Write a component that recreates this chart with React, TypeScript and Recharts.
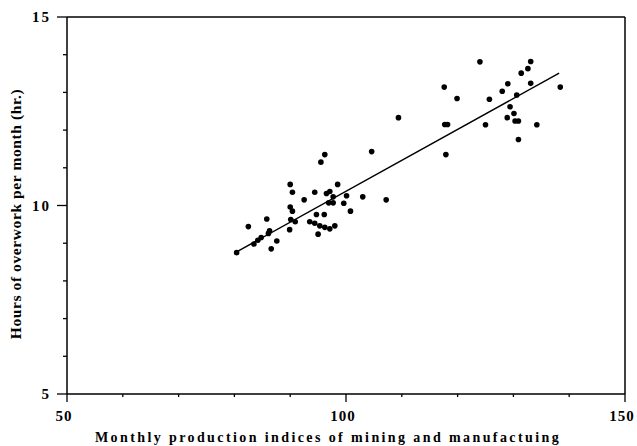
import { ScatterChart, Scatter, XAxis, YAxis, ZAxis, ReferenceLine, Label } from 'recharts';

// Monthly production index (x) vs hours of overwork per month (y)
const productionIndex = [
  80.4, 82.5, 83.5, 84.2, 84.8, 85.8, 86.3, 86.1, 87.6, 86.6,
  90.0, 90.4, 90.0, 90.4, 90.1, 90.9, 89.9, 92.5, 94.4, 94.4,
  93.5, 95.3, 96.2, 97.1, 98.0, 95.0, 94.7, 96.1, 95.5, 96.2,
  98.5, 96.5, 97.1, 97.7, 96.9, 97.7, 100.1, 99.6, 100.8, 103.0,
  107.2, 104.6, 109.4, 117.6, 117.7, 118.2, 117.9, 119.9, 124.0, 125.0,
  125.7, 128.0, 129.0, 130.6, 129.4, 130.1, 128.9, 130.3, 130.9, 130.9,
  134.2, 131.4, 132.6, 133.1, 133.1, 138.4,
];
const overworkHours = [
  8.75, 9.44, 8.98, 9.08, 9.15, 9.64, 9.33, 9.26, 9.06, 8.85,
  10.56, 10.35, 9.96, 9.85, 9.63, 9.57, 9.36, 10.15, 10.35, 9.53,
  9.57, 9.46, 9.42, 9.38, 9.46, 9.24, 9.76, 9.76, 11.15, 11.35,
  10.56, 10.32, 10.37, 10.23, 10.07, 10.07, 10.26, 10.06, 9.85, 10.23,
  10.15, 11.43, 12.33, 13.14, 12.15, 12.15, 11.35, 12.84, 13.81, 12.14,
  12.82, 13.03, 13.23, 12.93, 12.62, 12.44, 12.33, 12.24, 12.24, 11.75,
  12.14, 13.51, 13.63, 13.82, 13.24, 13.14,
];

// fitted regression line end points
const fitX = [80.4, 138.2];
const fitY = [8.77, 13.51];

const xTicks = [50, 60, 70, 80, 90, 100, 110, 120, 130, 140, 150];
const yTicks = [5, 6, 7, 8, 9, 10, 11, 12, 13, 14, 15];
const xLabels = [50, 100, 150];
const yLabels = [5, 10, 15];

const points = productionIndex.map((x, i) => ({ x, y: overworkHours[i] }));
const fitLine = fitX.map((x, i) => ({ x, y: fitY[i] }));

const FONT = '"Liberation Serif", "DejaVu Serif", serif';

const XTick = (props: any) => {
  const { x, y, payload } = props;
  const major = xLabels.includes(payload.value);
  return (
    <g>
      <line x1={x} x2={x} y1={y} y2={y + (major ? 8 : 3)} stroke="#000" strokeWidth={1.3} />
      {major && (
        <text x={x - 3} y={y + 27} textAnchor="middle" fontFamily={FONT} fontWeight="bold" fontSize={15} letterSpacing={1} fill="#000">
          {payload.value}
        </text>
      )}
    </g>
  );
};

const YTick = (props: any) => {
  const { x, y, payload } = props;
  const major = yLabels.includes(payload.value);
  return (
    <g>
      <line x1={x} x2={x - (major ? 10 : 4)} y1={y} y2={y} stroke="#000" strokeWidth={1.3} />
      {major && (
        <text x={x - 16} y={y + 5} textAnchor="end" fontFamily={FONT} fontWeight="bold" fontSize={15} letterSpacing={2} fill="#000">
          {payload.value}
        </text>
      )}
    </g>
  );
};

const XTitle = (props: any) => {
  const { viewBox } = props;
  return (
    <text x={viewBox.x + viewBox.width / 2 - 18} y={viewBox.y + 48} textAnchor="middle" fontFamily={FONT} fontWeight="bold" fontSize={14} letterSpacing={2.4} fill="#000">
      Monthly production indices of mining and manufactuing
    </text>
  );
};

const YTitle = () => {
  const cx = 21;
  const cy = 214;
  return (
    <text x={cx} y={cy} transform={`rotate(-90, ${cx}, ${cy})`} textAnchor="middle" fontFamily={FONT} fontWeight="bold" fontSize={15.5} letterSpacing={0.6} fill="#000">
      Hours of overwork per month (hr.)
    </text>
  );
};

const Dot = (props: any) => <circle cx={props.cx} cy={props.cy} r={2.8} fill="#000" />;
const NoDot = () => <g />;

export default function App() {
  return (
    <div style={{ width: 637, height: 446, background: '#fff' }}>
      <style>{'body { margin: 0; }'}</style>
      <ScatterChart width={637} height={446} margin={{ top: 17, right: 12, bottom: 12, left: 27 }}>
        <XAxis
          type="number"
          dataKey="x"
          domain={[50, 150]}
          ticks={xTicks}
          interval={0}
          height={40}
          tickSize={0}
          tickMargin={0}
          tickLine={false}
          tick={<XTick />}
          axisLine={{ stroke: '#000', strokeWidth: 1.5 }}
        >
          <Label content={<XTitle />} />
        </XAxis>
        <YAxis
          type="number"
          dataKey="y"
          domain={[5, 15]}
          ticks={yTicks}
          interval={0}
          width={40}
          tickSize={0}
          tickMargin={0}
          tickLine={false}
          tick={<YTick />}
          axisLine={{ stroke: '#000', strokeWidth: 1.5 }}
        >
          <Label content={<YTitle />} />
        </YAxis>
        <ZAxis range={[30, 30]} />
        <ReferenceLine y={15} stroke="#000" strokeWidth={1.5} />
        <ReferenceLine x={150} stroke="#000" strokeWidth={1.5} />
        <Scatter data={points} fill="#000" shape={<Dot />} isAnimationActive={false} />
        <Scatter data={fitLine} line={{ stroke: '#000', strokeWidth: 1.5 }} shape={<NoDot />} isAnimationActive={false} />
      </ScatterChart>
    </div>
  );
}
